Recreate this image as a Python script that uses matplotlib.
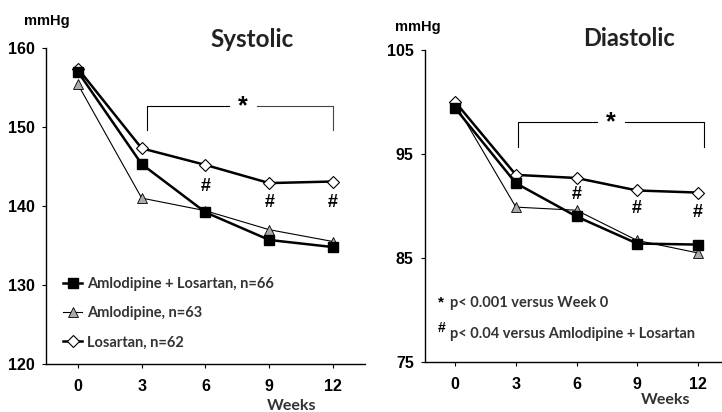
import matplotlib
matplotlib.use("Agg")
import matplotlib.pyplot as plt
from matplotlib.lines import Line2D

weeks = [0, 3, 6, 9, 12]
week_labels = ["0", "3", "6", "9", "12"]

sys_combo = [157.0, 145.3, 139.2, 135.7, 134.8]
sys_amlo = [155.4, 141.0, 139.4, 137.0, 135.5]
sys_losa = [157.4, 147.3, 145.2, 142.9, 143.1]

dia_combo = [99.4, 92.2, 89.0, 86.4, 86.3]
dia_amlo = [99.8, 89.9, 89.6, 86.7, 85.5]
dia_losa = [100.0, 93.0, 92.7, 91.5, 91.3]

sys_hash_weeks = [6, 9, 12]
sys_hash_y = [142.5, 140.4, 140.4]
dia_hash_weeks = [6, 9, 12]
dia_hash_y = [91.1, 89.8, 89.4]

labels = ["Amlodipine + Losartan, n=66", "Amlodipine, n=63", "Losartan, n=62"]

TICKF = ["Liberation Sans", "DejaVu Sans"]
TEXTF = ["Lato", "DejaVu Sans"]

fig = plt.figure(figsize=(7.22, 4.12), dpi=100)
axL = fig.add_axes([0.0637, 0.1165, 0.4418, 0.767])
axR = fig.add_axes([0.5886, 0.121, 0.4114, 0.7576])


def style(ax, ylim, yticks, xlim):
    ax.set_xlim(*xlim)
    ax.set_ylim(*ylim)
    ax.set_yticks(yticks)
    ax.set_yticklabels([str(t) for t in yticks], fontfamily=TICKF, fontweight="bold", fontsize=11.5)
    ax.set_xticks(weeks)
    ax.set_xticklabels(week_labels, fontfamily=TICKF, fontweight="bold", fontsize=11.5)
    for s in ["top", "right"]:
        ax.spines[s].set_visible(False)
    ax.spines["left"].set_linewidth(1.0)
    ax.spines["bottom"].set_linewidth(1.0)
    ax.tick_params(axis="y", direction="out", length=3, width=0.8, pad=5)
    ax.tick_params(axis="x", direction="out", length=3, width=0.8, pad=8)
    ax.set_xlabel("Weeks", fontfamily=TEXTF, fontweight="bold", fontsize=11.5, color="#333333")


def draw(ax, combo, amlo, losa):
    ax.plot(weeks, amlo, color="black", lw=0.8, marker="^", ms=7, mfc="#aaaaaa", mec="black", mew=0.6, zorder=3)
    ax.plot(weeks, losa, color="black", lw=1.8, marker="D", ms=6, mfc="white", mec="black", mew=0.8, zorder=4)
    ax.plot(weeks, combo, color="black", lw=1.8, marker="s", ms=6.5, mfc="black", mec="black", zorder=5)


style(axL, (120, 160), [120, 130, 140, 150, 160], (-1.5, 13.5))
style(axR, (75, 105), [75, 85, 95, 105], (-1.5, 13.2))

draw(axL, sys_combo, sys_amlo, sys_losa)
draw(axR, dia_combo, dia_amlo, dia_losa)

# Hash marks
for w, y in zip(sys_hash_weeks, sys_hash_y):
    axL.text(w, y, "#", ha="center", va="center", fontsize=13, fontweight="bold", fontfamily=TICKF)
for w, y in zip(dia_hash_weeks, dia_hash_y):
    axR.text(w, y, "#", ha="center", va="center", fontsize=13, fontweight="bold", fontfamily=TICKF)

# Brackets
def bracket(ax, x0, x1, ytop, ybot, gap0, gap1, color="#444444"):
    ax.plot([x0, x0, gap0], [ybot, ytop, ytop], color="black", lw=0.8)
    ax.plot([gap1, x1, x1], [ytop, ytop, ybot], color=color, lw=0.8)
    ax.text((gap0 + gap1) / 2, ytop, "*", ha="center", va="center", fontsize=18, fontweight="bold",
            fontfamily=TICKF)

bracket(axL, 3.25, 12.0, 152.6, 149.6, 7.1, 8.4)
bracket(axR, 3.1, 12.3, 98.05, 95.7, 7.0, 8.4, color="black")

# Titles and unit labels
fig.text(0.349, 0.903, "Systolic", ha="center", va="center", fontsize=17.5, fontweight="bold",
         fontfamily=TEXTF, color="#222222")
fig.text(0.871, 0.907, "Diastolic", ha="center", va="center", fontsize=17, fontweight="bold",
         fontfamily=TEXTF, color="#222222")
fig.text(0.065, 0.948, "mmHg", ha="center", va="center", fontsize=10.5, fontweight="bold", fontfamily=TICKF)
fig.text(0.578, 0.934, "mmHg", ha="center", va="center", fontsize=10.5, fontweight="bold", fontfamily=TICKF)

# Legend
handles = [
    Line2D([], [], color="black", lw=1.8, marker="s", ms=6.5, mfc="black", mec="black"),
    Line2D([], [], color="black", lw=0.8, marker="^", ms=7, mfc="#aaaaaa", mec="black", mew=0.6),
    Line2D([], [], color="black", lw=1.8, marker="D", ms=6, mfc="white", mec="black", mew=0.8),
]
leg = axL.legend(handles, labels, loc="lower left", bbox_to_anchor=(0.013, 0.005), frameon=False,
                 handlelength=1.3, handletextpad=0.35, labelspacing=1.05,
                 prop={"family": TEXTF, "weight": "bold", "size": 10.5})
for t in leg.get_texts():
    t.set_color("#333333")

# Footnotes
axR.text(0.045, 0.19, "*", transform=axR.transAxes, ha="left", va="center", fontsize=11,
         fontweight="bold", fontfamily=TICKF)
axR.text(0.085, 0.19, "p< 0.001 versus Week 0", transform=axR.transAxes, ha="left", va="center",
         fontsize=10.5, fontweight="bold", fontfamily=TEXTF, color="#333333")
axR.text(0.042, 0.11, "#", transform=axR.transAxes, ha="left", va="center", fontsize=10,
         fontweight="bold", fontfamily=TICKF)
axR.text(0.085, 0.09, "p< 0.04 versus Amlodipine + Losartan", transform=axR.transAxes, ha="left",
         va="center", fontsize=10.5, fontweight="bold", fontfamily=TEXTF, color="#333333")

axL.xaxis.set_label_coords(0.77, -0.112)
axR.xaxis.set_label_coords(0.81, -0.1)

fig.savefig("out.png", dpi=100)
